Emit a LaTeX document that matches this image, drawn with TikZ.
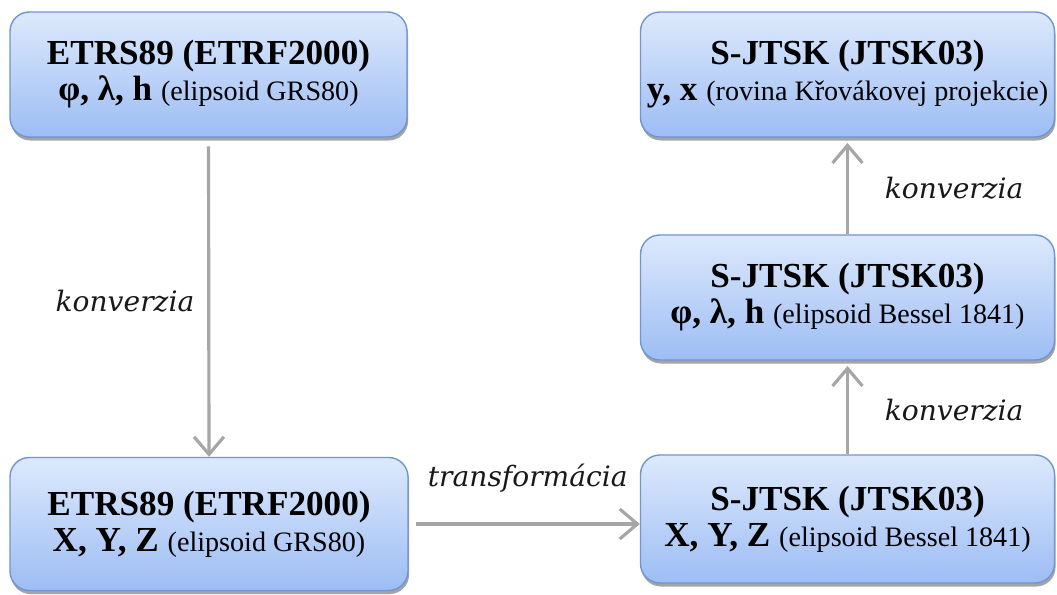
\documentclass[tikz,border=0pt]{standalone}
\usepackage{fontspec}
\setmainfont{Liberation Serif}
\newfontfamily\lblfont{DejaVu Serif}
\usetikzlibrary{arrows.meta,shadows}
\definecolor{boxtop}{HTML}{DDE9FC}
\definecolor{boxbot}{HTML}{9DBDF4}
\definecolor{boxline}{HTML}{6F95D2}
\definecolor{arrgray}{HTML}{A6A6A6}
\newcommand{\elps}[1]{{\mdseries\fontsize{16}{16}\selectfont(#1)}}
\tikzset{
  sysbox/.style={draw=boxline, line width=0.8pt, rounded corners=11pt,
    top color=boxtop, bottom color=boxbot, minimum height=2.5cm, inner sep=0pt,
    align=center, font=\fontsize{20}{20.5}\selectfont\bfseries,
    drop shadow={shadow xshift=0.6pt, shadow yshift=-2pt, opacity=0.55, fill=black!65}},
  conv/.style={draw=arrgray, line width=1.8pt, -{Straight Barb[length=10pt,width=17pt]}},
  lbl/.style={font=\lblfont\itshape\fontsize{16}{16}\selectfont, text=black!90}
}
\begin{document}
\begin{tikzpicture}
  \useasboundingbox (0,0) rectangle (21.14,-11.9);
  % coordinate systems
  \node[sysbox, minimum width=7.94cm] (etrsgeo) at (4.17,-1.49)
    {ETRS89 (ETRF2000)\\φ, λ, h \elps{elipsoid GRS80}};
  \node[sysbox, minimum width=7.96cm, minimum height=2.66cm] (etrsxyz) at (4.18,-10.48)
    {ETRS89 (ETRF2000)\\X, Y, Z \elps{elipsoid GRS80}};
  \node[sysbox, minimum width=8.28cm, minimum height=2.56cm] (jtskxyz) at (16.95,-10.38)
    {S-JTSK (JTSK03)\\X, Y, Z \elps{elipsoid Bessel 1841}};
  \node[sysbox, minimum width=8.28cm] (jtskgeo) at (16.95,-5.95)
    {S-JTSK (JTSK03)\\φ, λ, h \elps{elipsoid Bessel 1841}};
  \node[sysbox, minimum width=8.28cm] (jtskplane) at (16.95,-1.49)
    {S-JTSK (JTSK03)\\y, x \elps{rovina Křovákovej projekcie}};
  % conversions
  \draw[conv] ([yshift=-5pt]etrsgeo.south) -- (etrsxyz.north)
    node[lbl, midway, left=4pt] (convleft) {konverzia};
  \draw[conv] ([xshift=4pt]etrsxyz.east) -- (etrsxyz.east -| jtskxyz.west)
    node[lbl, midway, above=14pt] (transf) {transformácia};
  \draw[conv] (jtskxyz.north) -- ([yshift=-3pt]jtskgeo.south)
    node[lbl, midway, right=17pt] (convlow) {konverzia};
  \draw[conv] (jtskgeo.north) -- ([yshift=-3pt]jtskplane.south)
    node[lbl, midway, right=17pt] (convup) {konverzia};
\end{tikzpicture}
\end{document}
